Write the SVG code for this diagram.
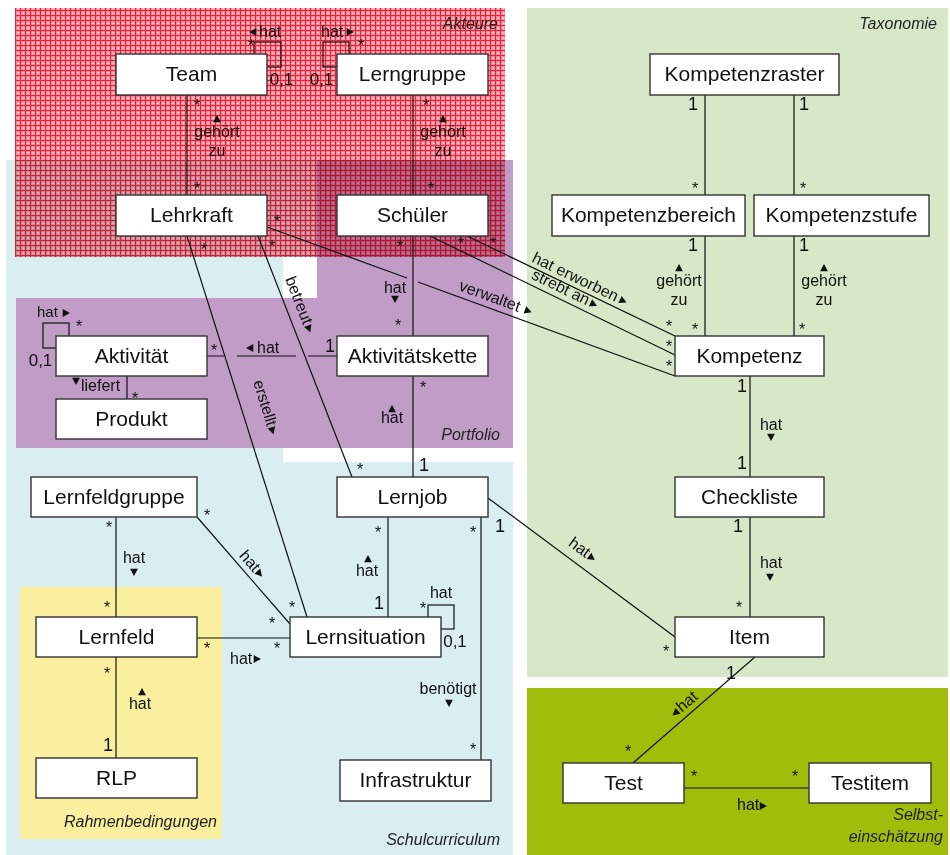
<svg xmlns="http://www.w3.org/2000/svg" xmlns:xlink="http://www.w3.org/1999/xlink" width="950" height="855" viewBox="0 0 950 855">
<style>
text{font-family:"Liberation Sans",Arial,sans-serif;fill:#111}
.node rect{fill:#fff;stroke:#333;stroke-width:1.4}
.node text{font-size:21px;text-anchor:middle}
.ln{stroke:#111;stroke-width:1.2;fill:none}
.l{font-size:16px}
.c{text-anchor:middle}
.m{font-size:18px;text-anchor:middle}
.z{font-size:17px;text-anchor:middle}
.s{font-size:16px;text-anchor:middle}
.r{font-size:16px;font-style:italic;text-anchor:end;fill:#222}
.tri{fill:#111}
</style>
<defs>
<pattern id="rp" width="5" height="5" patternUnits="userSpaceOnUse">
<rect width="5" height="5" fill="#f59aa5"/>
<rect width="5" height="1.1" fill="#e9223b"/>
<rect width="1.1" height="5" fill="#e9223b"/>
<rect x="2.5" y="2.5" width="1.3" height="1.3" fill="#fddde1"/>
</pattern>
<path id="tr" d="M-3.3,-3.9 L3.9,0 L-3.3,3.9 Z"/>
</defs>
<rect width="950" height="855" fill="#fff"/>
<g id="regions">
<path d="M6,160 H317 V257 H283 V462 H513 V855 H6 Z" fill="#daedf1"/>
<path d="M317,160 H513 V448 H16 V298 H317 Z" fill="#c09cc7"/>
<rect x="20" y="587" width="202" height="252" fill="#f9ef9f"/>
<rect x="527" y="8" width="421" height="669" fill="#d7e7c8"/>
<rect x="527" y="688" width="421" height="167" fill="#9fbd0a"/>
<rect x="15" y="8" width="490" height="249" fill="url(#rp)" style="mix-blend-mode:multiply"/>
<text class="r" x="498" y="29">Akteure</text>
<text class="r" x="937" y="29">Taxonomie</text>
<text class="r" x="500" y="440">Portfolio</text>
<text class="r" x="500" y="845">Schulcurriculum</text>
<text class="r" x="217" y="827">Rahmenbedingungen</text>
<text class="r" x="943" y="820">Selbst-</text>
<text class="r" x="943" y="842">einschätzung</text>
</g>
<g id="connectors">
<rect class="ln" x="254" y="42" width="27" height="25"/>
<rect class="ln" x="323" y="42" width="26" height="25"/>
<rect class="ln" x="43" y="323" width="26" height="25"/>
<rect class="ln" x="428" y="605" width="26" height="24"/>
<path class="ln" d="M187,95 V195 M413,95 V195 M413,236 V336 M413,376 V477"/>
<path class="ln" d="M207,356 H224 M237,356 H296 M308,356 H337"/>
<path class="ln" d="M127,376 V399"/>
<path class="ln" d="M187,236 L307,617"/>
<path class="ln" d="M258,236 L352,477"/>
<path class="ln" d="M267,227 L407,278 M418,282 L675,376"/>
<path class="ln" d="M430,236 L675,355"/>
<path class="ln" d="M467,236 L675,336"/>
<path class="ln" d="M705,95 V195 M794,95 V195 M705,236 V336 M794,236 V336"/>
<path class="ln" d="M750,376 V477 M750,517 V617"/>
<path class="ln" d="M488,498 L675,637"/>
<path class="ln" d="M388,517 V617 M481,517 V760"/>
<path class="ln" d="M116,517 V617 M116,657 V758"/>
<path class="ln" d="M197,517 L290,624"/>
<path class="ln" d="M197,638 H290"/>
<path class="ln" d="M755,657 L633,763"/>
<path class="ln" d="M684,788 H809"/>
</g>
<g id="node-team" class="node"><rect x="116" y="54" width="151" height="41"/><text x="191.5" y="81">Team</text></g>
<g id="node-lerngruppe" class="node"><rect x="337" y="54" width="151" height="41"/><text x="412.5" y="81">Lerngruppe</text></g>
<g id="node-lehrkraft" class="node"><rect x="116" y="195" width="151" height="41"/><text x="191.5" y="222">Lehrkraft</text></g>
<g id="node-schueler" class="node"><rect x="337" y="195" width="151" height="41"/><text x="412.5" y="222">Schüler</text></g>
<g id="node-kompetenzraster" class="node"><rect x="650" y="54" width="189" height="41"/><text x="744.5" y="81">Kompetenzraster</text></g>
<g id="node-kompetenzbereich" class="node"><rect x="552" y="195" width="193" height="41"/><text x="648.5" y="222">Kompetenzbereich</text></g>
<g id="node-kompetenzstufe" class="node"><rect x="754" y="195" width="175" height="41"/><text x="841.5" y="222">Kompetenzstufe</text></g>
<g id="node-kompetenz" class="node"><rect x="675" y="336" width="149" height="40"/><text x="749.5" y="363">Kompetenz</text></g>
<g id="node-checkliste" class="node"><rect x="675" y="477" width="149" height="40"/><text x="749.5" y="504">Checkliste</text></g>
<g id="node-item" class="node"><rect x="675" y="617" width="149" height="40"/><text x="749.5" y="644">Item</text></g>
<g id="node-aktivitaet" class="node"><rect x="56" y="336" width="151" height="40"/><text x="131.5" y="363">Aktivität</text></g>
<g id="node-aktivitaetskette" class="node"><rect x="337" y="336" width="151" height="40"/><text x="412.5" y="363">Aktivitätskette</text></g>
<g id="node-produkt" class="node"><rect x="56" y="399" width="151" height="40"/><text x="131.5" y="426">Produkt</text></g>
<g id="node-lernfeldgruppe" class="node"><rect x="31" y="477" width="166" height="40"/><text x="114" y="504">Lernfeldgruppe</text></g>
<g id="node-lernjob" class="node"><rect x="337" y="477" width="151" height="40"/><text x="412.5" y="504">Lernjob</text></g>
<g id="node-lernfeld" class="node"><rect x="36" y="617" width="161" height="40"/><text x="116.5" y="644">Lernfeld</text></g>
<g id="node-lernsituation" class="node"><rect x="290" y="617" width="151" height="40"/><text x="365.5" y="644">Lernsituation</text></g>
<g id="node-rlp" class="node"><rect x="36" y="758" width="161" height="40"/><text x="116.5" y="785">RLP</text></g>
<g id="node-infrastruktur" class="node"><rect x="340" y="760" width="151" height="41"/><text x="415.5" y="787">Infrastruktur</text></g>
<g id="node-test" class="node"><rect x="563" y="763" width="121" height="40"/><text x="623.5" y="790">Test</text></g>
<g id="node-testitem" class="node"><rect x="809" y="763" width="122" height="40"/><text x="870" y="790">Testitem</text></g>
<g id="labels">
<use href="#tr" class="tri" transform="translate(253,32) rotate(180)"/><text class="l" x="259" y="37">hat</text>
<text class="l" x="321" y="37">hat</text><use href="#tr" class="tri" transform="translate(350,32)"/>
<use href="#tr" class="tri" transform="translate(217,119) rotate(-90)"/><text class="l c" x="217" y="137">gehört</text><text class="l c" x="217" y="156">zu</text>
<use href="#tr" class="tri" transform="translate(443,119) rotate(-90)"/><text class="l c" x="443" y="137">gehört</text><text class="l c" x="443" y="156">zu</text>
<text class="l c" x="395" y="293">hat</text><use href="#tr" class="tri" transform="translate(395,299) rotate(90)"/>
<use href="#tr" class="tri" transform="translate(392,409) rotate(-90)"/><text class="l c" x="392" y="423">hat</text>
<text class="l" x="37" y="317" style="font-size:15px">hat</text><use href="#tr" class="tri" transform="translate(66,313)"/>
<use href="#tr" class="tri" transform="translate(250,348) rotate(180)"/><text class="l" x="257" y="353">hat</text>
<use href="#tr" class="tri" transform="translate(76,381) rotate(90)"/><text class="l" x="81" y="391">liefert</text>
<g transform="translate(253,382) rotate(72.8)"><text class="l">erstellt</text><use href="#tr" class="tri" transform="translate(52,-4.2)"/></g>
<g transform="translate(285,279) rotate(68.7)"><text class="l">betreut</text><use href="#tr" class="tri" transform="translate(55,-4.2)"/></g>
<g transform="translate(458,290) rotate(20)"><text class="l">verwaltet</text><use href="#tr" class="tri" transform="translate(73,-4.2)"/></g>
<g transform="translate(530.5,278.3) rotate(25.9)"><text class="l">strebt an</text><use href="#tr" class="tri" transform="translate(68,-4.2)"/></g>
<g transform="translate(531,261.5) rotate(25.6)"><text class="l">hat erworben</text><use href="#tr" class="tri" transform="translate(100,-4.2)"/></g>
<use href="#tr" class="tri" transform="translate(679,268) rotate(-90)"/><text class="l c" x="679" y="286">gehört</text><text class="l c" x="679" y="305">zu</text>
<use href="#tr" class="tri" transform="translate(824,268) rotate(-90)"/><text class="l c" x="824" y="286">gehört</text><text class="l c" x="824" y="305">zu</text>
<text class="l c" x="771" y="430">hat</text><use href="#tr" class="tri" transform="translate(771,437) rotate(90)"/>
<text class="l c" x="771" y="568">hat</text><use href="#tr" class="tri" transform="translate(770,577) rotate(90)"/>
<g transform="translate(567.5,545) rotate(36.6)"><text class="l">hat</text><use href="#tr" class="tri" transform="translate(27,-4.2)"/></g>
<text class="l c" x="134" y="563">hat</text><use href="#tr" class="tri" transform="translate(134,572) rotate(90)"/>
<g transform="translate(238.6,556) rotate(49)"><text class="l">hat</text><use href="#tr" class="tri" transform="translate(27,-4.2)"/></g>
<use href="#tr" class="tri" transform="translate(368,559) rotate(-90)"/><text class="l c" x="367" y="576">hat</text>
<text class="l c" x="441" y="598">hat</text>
<text class="l c" x="448" y="694">benötigt</text><use href="#tr" class="tri" transform="translate(449,703) rotate(90)"/>
<text class="l" x="230" y="664">hat</text><use href="#tr" class="tri" transform="translate(257,659)"/>
<use href="#tr" class="tri" transform="translate(142,692) rotate(-90)"/><text class="l c" x="140" y="709">hat</text>
<g transform="translate(676,718) rotate(-41)"><use href="#tr" class="tri" transform="translate(3,-4.2) rotate(180)"/><text class="l" x="8">hat</text></g>
<text class="l" x="737" y="810">hat</text><use href="#tr" class="tri" transform="translate(763,806)"/>
<text class="z" x="281.5" y="85">0,1</text>
<text class="z" x="321.5" y="85">0,1</text>
<text class="z" x="40.5" y="366">0,1</text>
<text class="z" x="455" y="647">0,1</text>
<text class="m" x="330" y="352">1</text>
<text class="m" x="424" y="471">1</text>
<text class="m" x="500" y="532">1</text>
<text class="m" x="379" y="609">1</text>
<text class="m" x="108" y="751">1</text>
<text class="m" x="693" y="110">1</text>
<text class="m" x="804" y="110">1</text>
<text class="m" x="693" y="251">1</text>
<text class="m" x="804" y="251">1</text>
<text class="m" x="742" y="392">1</text>
<text class="m" x="742" y="469">1</text>
<text class="m" x="738" y="532">1</text>
<text class="m" x="731" y="679">1</text>
<text class="s" x="251" y="51">*</text>
<text class="s" x="361" y="51">*</text>
<text class="s" x="197" y="111">*</text>
<text class="s" x="197" y="194">*</text>
<text class="s" x="426" y="111">*</text>
<text class="s" x="431" y="194">*</text>
<text class="s" x="277" y="227">*</text>
<text class="s" x="204" y="255">*</text>
<text class="s" x="272" y="252">*</text>
<text class="s" x="400" y="252">*</text>
<text class="s" x="461" y="249">*</text>
<text class="s" x="493" y="249">*</text>
<text class="s" x="398" y="331">*</text>
<text class="s" x="423" y="393">*</text>
<text class="s" x="79" y="332">*</text>
<text class="s" x="214" y="356">*</text>
<text class="s" x="135" y="404">*</text>
<text class="s" x="360" y="475">*</text>
<text class="s" x="378" y="538">*</text>
<text class="s" x="473" y="538">*</text>
<text class="s" x="207" y="521">*</text>
<text class="s" x="109" y="533">*</text>
<text class="s" x="107" y="613">*</text>
<text class="s" x="292" y="613">*</text>
<text class="s" x="272" y="629">*</text>
<text class="s" x="207" y="654">*</text>
<text class="s" x="277" y="654">*</text>
<text class="s" x="107" y="679">*</text>
<text class="s" x="423" y="614">*</text>
<text class="s" x="473" y="755">*</text>
<text class="s" x="695" y="194">*</text>
<text class="s" x="803" y="194">*</text>
<text class="s" x="695" y="335">*</text>
<text class="s" x="802" y="335">*</text>
<text class="s" x="669" y="332">*</text>
<text class="s" x="669" y="352">*</text>
<text class="s" x="669" y="372">*</text>
<text class="s" x="739" y="613">*</text>
<text class="s" x="666" y="657">*</text>
<text class="s" x="628" y="757">*</text>
<text class="s" x="694" y="782">*</text>
<text class="s" x="795" y="782">*</text>
</g>
</svg>
